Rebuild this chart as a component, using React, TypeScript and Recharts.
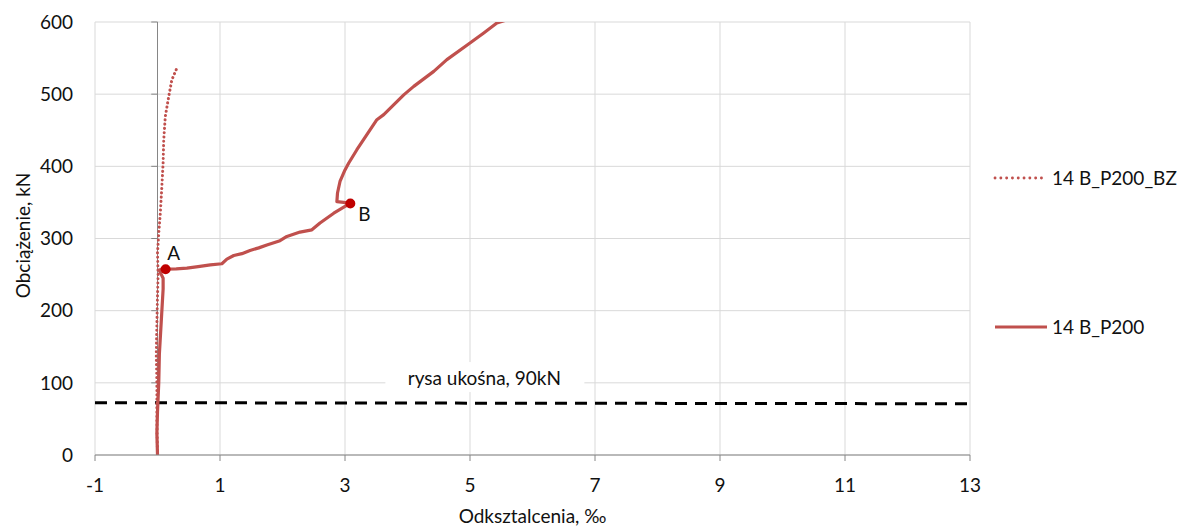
import React from 'react';
import {
  ComposedChart,
  Line,
  XAxis,
  YAxis,
  CartesianGrid,
  ReferenceLine,
  ReferenceDot,
  Label,
} from 'recharts';

const FONT = 'Lato, "Open Sans", "Noto Sans", sans-serif';
const FS = 19;
const RED = '#C0504D';
const DOT_RED = '#C00000';
const AXIS_GRAY = '#868686';
const GRID_GRAY = '#D9D9D9';
const TEXT = '#111';

const xTicks = [-1, 1, 3, 5, 7, 9, 11, 13];
const yTicks = [0, 100, 200, 300, 400, 500, 600];

const seriesNames = ['14 B_P200_BZ', '14 B_P200'];

const seriesBZ = [
  { x: 0.0, y: 0 },
  { x: -0.01, y: 50 },
  { x: -0.01, y: 100 },
  { x: -0.02, y: 140 },
  { x: -0.01, y: 180 },
  { x: 0.0, y: 220 },
  { x: 0.01, y: 250 },
  { x: 0.0, y: 280 },
  { x: 0.02, y: 307 },
  { x: 0.045, y: 335 },
  { x: 0.07, y: 372 },
  { x: 0.09, y: 405 },
  { x: 0.1, y: 437 },
  { x: 0.125, y: 469 },
  { x: 0.18, y: 497 },
  { x: 0.23, y: 520 },
  { x: 0.3, y: 534 },
];

const seriesP200 = [
  { x: 0.0, y: 0 },
  { x: -0.01, y: 30 },
  { x: 0.0, y: 60 },
  { x: 0.02, y: 100 },
  { x: 0.03, y: 140 },
  { x: 0.05, y: 170 },
  { x: 0.07, y: 200 },
  { x: 0.09, y: 230 },
  { x: 0.09, y: 245 },
  { x: 0.05, y: 252 },
  { x: 0.03, y: 256 },
  { x: 0.07, y: 258 },
  { x: 0.13, y: 257.5 },
  { x: 0.3, y: 258 },
  { x: 0.47, y: 259 },
  { x: 0.65, y: 261 },
  { x: 0.845, y: 263.5 },
  { x: 1.03, y: 265 },
  { x: 1.11, y: 271.4 },
  { x: 1.22, y: 276.4 },
  { x: 1.35, y: 279 },
  { x: 1.48, y: 283.4 },
  { x: 1.62, y: 287 },
  { x: 1.75, y: 291 },
  { x: 1.96, y: 297 },
  { x: 2.07, y: 302.8 },
  { x: 2.28, y: 308.9 },
  { x: 2.47, y: 312 },
  { x: 2.6, y: 321.4 },
  { x: 2.82, y: 335 },
  { x: 3.0, y: 344.4 },
  { x: 3.085, y: 348.5 },
  { x: 2.98, y: 350 },
  { x: 2.87, y: 351 },
  { x: 2.88, y: 363 },
  { x: 2.92, y: 379 },
  { x: 3.0, y: 395 },
  { x: 3.06, y: 404.6 },
  { x: 3.19, y: 423 },
  { x: 3.35, y: 444 },
  { x: 3.51, y: 464.6 },
  { x: 3.62, y: 471.6 },
  { x: 3.94, y: 499 },
  { x: 4.1, y: 510.8 },
  { x: 4.42, y: 531.6 },
  { x: 4.63, y: 547.8 },
  { x: 5.0, y: 570.9 },
  { x: 5.22, y: 584.8 },
  { x: 5.43, y: 598.6 },
  { x: 5.59, y: 603 },
];

const crackLine = [
  { x: -1, y: 72.5 },
  { x: 13, y: 71 },
];

const markedPoints = [
  { x: 0.13, y: 257.5, label: 'A', dx: 8, dy: -17 },
  { x: 3.085, y: 348.5, label: 'B', dx: 14, dy: 10 },
];

const crackLabel = { x: 5.23, y: 108, text: 'rysa ukośna, 90kN' };

const LegendBlock = () => (
  <div style={{ position: 'absolute', left: 992, top: 166, width: 195, fontFamily: FONT, fontSize: FS, color: TEXT }}>
    {seriesNames.map((name, i) => (
      <div
        key={name}
        style={{ position: 'absolute', left: 0, top: i * 149, height: 24, display: 'flex', alignItems: 'center', whiteSpace: 'nowrap' }}
      >
        <svg width={56} height={24} style={{ marginRight: 4, display: 'block' }}>
          <line
            x1={3}
            y1={12}
            x2={55}
            y2={12}
            stroke={RED}
            strokeWidth={i === 0 ? 2.8 : 3}
            strokeDasharray={i === 0 ? '0.1 5.7' : undefined}
            strokeLinecap={i === 0 ? 'round' : 'butt'}
          />
        </svg>
        <span style={{ lineHeight: '24px' }}>{name}</span>
      </div>
    ))}
  </div>
);

export default function App() {
  return (
    <div style={{ position: 'absolute', left: 0, top: 0, width: 1187, height: 528, background: '#fff' }}>
      <ComposedChart
        width={1187}
        height={528}
        margin={{ top: 22, right: 217, bottom: 0, left: 0 }}
        style={{ fontFamily: FONT }}
      >
        <CartesianGrid stroke={GRID_GRAY} strokeWidth={1} />
        <XAxis
          type="number"
          dataKey="x"
          domain={[-1, 13]}
          ticks={xTicks}
          interval={0}
          allowDataOverflow
          height={73}
          axisLine={{ stroke: AXIS_GRAY }}
          tickLine={{ stroke: AXIS_GRAY }}
          tickSize={6}
          tickMargin={18}
          tick={{ fill: TEXT, fontSize: FS, fontFamily: FONT }}
        >
          <Label value="Odksztalcenia, ‰" position="insideBottom" offset={5} fill={TEXT} fontSize={FS} fontFamily={FONT} />
        </XAxis>
        <YAxis
          type="number"
          dataKey="y"
          domain={[0, 600]}
          ticks={yTicks}
          interval={0}
          allowDataOverflow
          width={95}
          axisLine={false}
          tickLine={false}
          tickSize={6}
          tickMargin={16}
          tick={{ fill: TEXT, fontSize: FS, fontFamily: FONT }}
        >
          <Label
            content={(props: any) => {
              const vb = props.viewBox || {};
              const cx = vb.x + 22;
              const cy = vb.y + vb.height / 2 - 3;
              return (
                <text
                  x={cx}
                  y={cy}
                  transform={`rotate(-90 ${cx} ${cy})`}
                  textAnchor="middle"
                  dominantBaseline="central"
                  fill={TEXT}
                  fontSize={FS}
                  fontFamily={FONT}
                >
                  Obciążenie, kN
                </text>
              );
            }}
          />
        </YAxis>
        <ReferenceLine x={0} stroke={AXIS_GRAY} strokeWidth={1} />
        {yTicks.slice(1).map((t) => (
          <ReferenceLine
            key={t}
            segment={[
              { x: -0.1, y: t },
              { x: 0, y: t },
            ]}
            stroke={AXIS_GRAY}
            strokeWidth={1}
          />
        ))}
        <Line
          data={crackLine}
          dataKey="y"
          type="linear"
          stroke="#000"
          strokeWidth={3}
          strokeDasharray="12 8"
          dot={false}
          activeDot={false}
          legendType="none"
          isAnimationActive={false}
        />
        <Line
          data={seriesBZ}
          dataKey="y"
          name={seriesNames[0]}
          type="linear"
          stroke={RED}
          strokeWidth={3}
          strokeDasharray="0.1 4.2"
          strokeLinecap="round"
          dot={false}
          activeDot={false}
          isAnimationActive={false}
        />
        <Line
          data={seriesP200}
          dataKey="y"
          name={seriesNames[1]}
          type="linear"
          stroke={RED}
          strokeWidth={3.2}
          strokeLinejoin="round"
          dot={false}
          activeDot={false}
          isAnimationActive={false}
        />
        {markedPoints.map((p) => (
          <ReferenceDot
            key={p.label}
            x={p.x}
            y={p.y}
            r={5}
            shape={(props: any) => (
              <g>
                <circle cx={props.cx} cy={props.cy} r={5} fill={DOT_RED} />
                <text
                  x={props.cx + p.dx}
                  y={props.cy + p.dy}
                  textAnchor="middle"
                  dominantBaseline="central"
                  fill={TEXT}
                  fontSize={FS}
                  fontFamily={FONT}
                >
                  {p.label}
                </text>
              </g>
            )}
          />
        ))}
        <ReferenceDot
          x={crackLabel.x}
          y={crackLabel.y}
          r={1}
          shape={(props: any) => (
            <g>
              <rect x={props.cx - 99} y={props.cy - 15} width={199} height={30} fill="#fff" />
              <text
                x={props.cx}
                y={props.cy}
                textAnchor="middle"
                dominantBaseline="central"
                fill={TEXT}
                fontSize={FS}
                fontFamily={FONT}
              >
                {crackLabel.text}
              </text>
            </g>
          )}
        />
      </ComposedChart>
      <LegendBlock />
    </div>
  );
}
